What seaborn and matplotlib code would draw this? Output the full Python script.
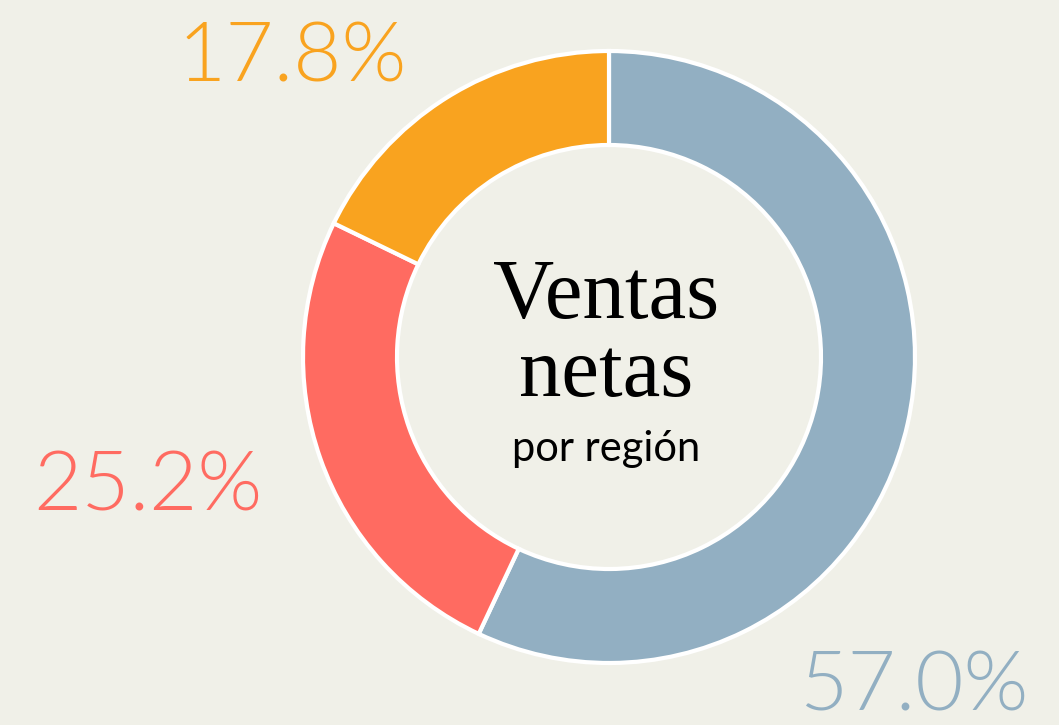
import numpy as np
import matplotlib.pyplot as plt
import seaborn as sns

# data
regions = ['Región A', 'Región B', 'Región C']
shares = [57.0, 25.2, 17.8]
labels = ['57.0%', '25.2%', '17.8%']
colors = ['#92afc2', '#ff6b61', '#f9a31f']

bg = '#f0f0e8'
sns.set_style('white')
plt.rcParams['font.family'] = ['Lato', 'DejaVu Sans']

fig = plt.figure(figsize=(10.59, 7.25), dpi=100, facecolor=bg)
ax = fig.add_axes([0, 0, 1, 1])
ax.set_facecolor(bg)

# donut
ax.pie(
    shares,
    colors=colors,
    startangle=90,
    counterclock=False,
    center=(609, 368),
    radius=306,
    frame=True,
    wedgeprops=dict(width=94, edgecolor='white', linewidth=3),
)
ax.set_xlim(0, 1059)
ax.set_ylim(0, 725)
ax.set_aspect('equal')
ax.axis('off')

# percentage labels
label_pos = [(914, 37), (148, 237), (292, 666)]
for (x, y), txt, c in zip(label_pos, labels, colors):
    ax.text(x, y, txt, color=c, fontsize=60, fontweight=300,
            ha='center', va='center')

# center title
ax.text(606, 428, 'Ventas', family='Liberation Serif', fontsize=61,
        ha='center', va='center', color='black')
ax.text(606, 350, 'netas', family='Liberation Serif', fontsize=61,
        ha='center', va='center', color='black')
ax.text(606, 276, 'por región', fontsize=30, ha='center', va='center',
        color='black')

fig.savefig('out.png', dpi=100, facecolor=bg)
